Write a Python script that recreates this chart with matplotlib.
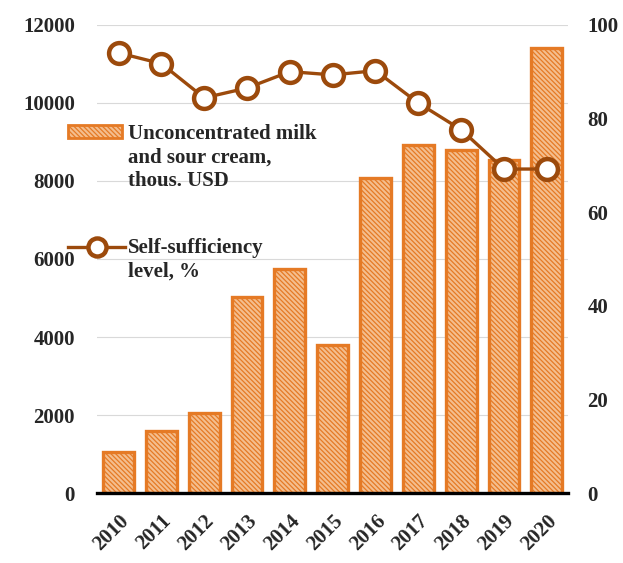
import matplotlib
matplotlib.use("Agg")
import matplotlib.pyplot as plt
from matplotlib.lines import Line2D
from matplotlib.patches import Rectangle
import numpy as np

years = ["2010", "2011", "2012", "2013", "2014", "2015", "2016", "2017", "2018", "2019", "2020"]
milk_values = [1050, 1590, 2050, 5030, 5740, 3790, 8080, 8920, 8790, 8540, 11410]
self_sufficiency = [94.0, 91.7, 84.4, 86.5, 90.0, 89.3, 90.2, 83.3, 77.6, 69.2, 69.2]
left_ticks = [0, 2000, 4000, 6000, 8000, 10000, 12000]
right_ticks = [0, 20, 40, 60, 80, 100]
bar_label = "Unconcentrated milk\nand sour cream,\nthous. USD"
line_label = "Self-sufficiency\nlevel, %"

plt.rcParams['font.family'] = ['Liberation Serif', 'DejaVu Serif']
plt.rcParams['hatch.color'] = '#E0731C'
plt.rcParams['hatch.linewidth'] = 0.9

BAR_FACE = '#F4BE8E'
BAR_EDGE = '#E57A25'
LINE_C = '#9C4A0C'
TXT = '#262626'
FS = 15

fig = plt.figure(figsize=(6.23, 5.63), dpi=100)
ax = fig.add_axes([0.156, 0.124, 0.756, 0.832])
x = np.arange(len(years))

ax.set_axisbelow(True)
ax.grid(axis='y', color='#D9D9D9', linewidth=0.8)
ax.bar(x, milk_values, width=0.72, color=BAR_FACE, edgecolor=BAR_EDGE,
       linewidth=2.4, hatch='\\\\\\\\\\\\\\', zorder=2)
ax.set_ylim(0, 12000)
ax.set_xlim(-0.5, 10.5)
ax.set_yticks(left_ticks)
ax.set_xticks(x)
ax.set_xticklabels(years, rotation=45, ha='right', rotation_mode='anchor')
for s in ['top', 'right', 'left']:
    ax.spines[s].set_visible(False)
ax.spines['bottom'].set_linewidth(2.4)
ax.spines['bottom'].set_color('black')
ax.spines['bottom'].set_zorder(5)
ax.tick_params(axis='y', length=0, labelsize=FS, pad=16)
ax.tick_params(axis='x', length=0, labelsize=FS, pad=13)
for lab in ax.get_xticklabels() + ax.get_yticklabels():
    lab.set_fontweight('bold')
    lab.set_color(TXT)

ax2 = ax.twinx()
ax2.plot(x, self_sufficiency, color=LINE_C, linewidth=2.4, marker='o',
         markersize=15, markerfacecolor='white', markeredgecolor=LINE_C,
         markeredgewidth=3.2, zorder=3)
ax2.set_ylim(0, 100)
ax2.set_yticks(right_ticks)
for s in ['top', 'right', 'left', 'bottom']:
    ax2.spines[s].set_visible(False)
ax2.tick_params(axis='y', length=0, labelsize=FS, pad=14)
for lab in ax2.get_yticklabels():
    lab.set_fontweight('bold')
    lab.set_color(TXT)

# legend drawn in figure coordinates (handle aligned with first text line)
W, H = 623.0, 563.0
def fx(px):
    return px / W
def fy(py):
    return 1 - py / H

fig.patches.append(Rectangle((fx(68), fy(138)), fx(122) - fx(68), (138 - 125) / H,
                             transform=fig.transFigure, facecolor=BAR_FACE,
                             edgecolor=BAR_EDGE, linewidth=2.0, hatch='\\\\\\\\\\\\\\'))
fig.lines.append(Line2D([fx(68), fx(125)], [fy(247), fy(247)], transform=fig.transFigure,
                        color=LINE_C, linewidth=2.4))
fig.lines.append(Line2D([fx(97)], [fy(247)], transform=fig.transFigure, color=LINE_C,
                        marker='o', markersize=13, markerfacecolor='white',
                        markeredgecolor=LINE_C, markeredgewidth=3.2))
fig.text(fx(128), fy(124), bar_label, ha='left', va='top', fontsize=FS,
         fontweight='bold', color=TXT, linespacing=1.25)
fig.text(fx(128), fy(238), line_label, ha='left', va='top', fontsize=FS,
         fontweight='bold', color=TXT, linespacing=1.25)

fig.savefig("out.png", dpi=100)
